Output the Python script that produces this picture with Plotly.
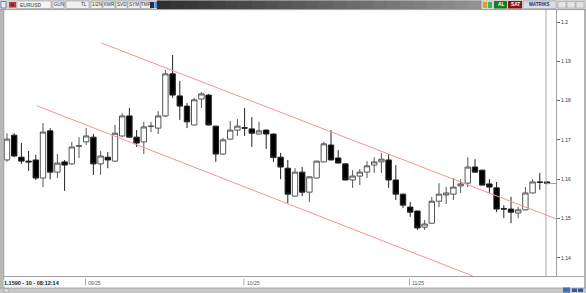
import plotly.graph_objects as go
import pandas as pd

# ---------------- data ----------------
dates = [d.strftime("%Y-%m-%d") for d in pd.bdate_range("2025-08-15", "2025-11-28")]

opens = [1.1649, 1.1712, 1.1656, 1.1646, 1.1649, 1.1603, 1.1723, 1.1618, 1.1644, 1.1639,
         1.1684, 1.1695, 1.1707, 1.1639, 1.1656, 1.1646, 1.1710, 1.1761, 1.1707, 1.1695,
         1.1734, 1.1730, 1.1761, 1.1868, 1.1812, 1.1786, 1.1738, 1.1804, 1.1814, 1.1735,
         1.1664, 1.1702, 1.1725, 1.1731, 1.1728, 1.1715, 1.1725, 1.1715, 1.1656, 1.1628,
         1.1557, 1.1618, 1.1567, 1.1603, 1.1644, 1.1687, 1.1654, 1.1639, 1.1598, 1.1608,
         1.1618, 1.1636, 1.1644, 1.1649, 1.1598, 1.1562, 1.1529, 1.1519, 1.1478, 1.1488,
         1.1544, 1.1560, 1.1562, 1.1583, 1.1590, 1.1631, 1.1623, 1.1588, 1.1578, 1.1525,
         1.1524, 1.1514, 1.1522, 1.1565, 1.1593, 1.1593]
highs = [1.1717, 1.1717, 1.1692, 1.1672, 1.1662, 1.1743, 1.1730, 1.1664, 1.1649, 1.1695,
         1.1707, 1.1730, 1.1715, 1.1672, 1.1669, 1.1738, 1.1768, 1.1781, 1.1725, 1.1746,
         1.1746, 1.1773, 1.1878, 1.1916, 1.1850, 1.1794, 1.1807, 1.1822, 1.1817, 1.1736,
         1.1705, 1.1748, 1.1753, 1.1781, 1.1758, 1.1746, 1.1726, 1.1716, 1.1667, 1.1649,
         1.1628, 1.1631, 1.1607, 1.1647, 1.1695, 1.1725, 1.1674, 1.1640, 1.1623, 1.1626,
         1.1646, 1.1656, 1.1667, 1.1664, 1.1636, 1.1563, 1.1542, 1.1520, 1.1496, 1.1555,
         1.1590, 1.1580, 1.1603, 1.1600, 1.1656, 1.1651, 1.1624, 1.1600, 1.1593, 1.1534,
         1.1555, 1.1529, 1.1580, 1.1600, 1.1616, 1.1594]
lows = [1.1644, 1.1656, 1.1639, 1.1621, 1.1598, 1.1580, 1.1600, 1.1603, 1.1570, 1.1637,
        1.1654, 1.1687, 1.1611, 1.1611, 1.1628, 1.1644, 1.1707, 1.1705, 1.1682, 1.1664,
        1.1720, 1.1715, 1.1758, 1.1807, 1.1751, 1.1730, 1.1737, 1.1781, 1.1737, 1.1644,
        1.1662, 1.1701, 1.1710, 1.1710, 1.1682, 1.1714, 1.1677, 1.1644, 1.1600, 1.1539,
        1.1556, 1.1557, 1.1542, 1.1602, 1.1643, 1.1648, 1.1640, 1.1597, 1.1578, 1.1585,
        1.1603, 1.1616, 1.1616, 1.1578, 1.1547, 1.1527, 1.1504, 1.1471, 1.1471, 1.1487,
        1.1529, 1.1537, 1.1547, 1.1565, 1.1580, 1.1617, 1.1584, 1.1565, 1.1516, 1.1501,
        1.1488, 1.1501, 1.1521, 1.1564, 1.1573, 1.1587]
closes = [1.1702, 1.1659, 1.1646, 1.1644, 1.1603, 1.1720, 1.1618, 1.1641, 1.1636, 1.1682,
          1.1685, 1.1710, 1.1639, 1.1659, 1.1649, 1.1717, 1.1761, 1.1707, 1.1692, 1.1733,
          1.1735, 1.1761, 1.1868, 1.1814, 1.1786, 1.1746, 1.1802, 1.1817, 1.1738, 1.1664,
          1.1700, 1.1725, 1.1735, 1.1730, 1.1717, 1.1723, 1.1715, 1.1655, 1.1631, 1.1562,
          1.1618, 1.1567, 1.1606, 1.1646, 1.1690, 1.1649, 1.1641, 1.1598, 1.1608, 1.1618,
          1.1634, 1.1644, 1.1651, 1.1598, 1.1562, 1.1534, 1.1516, 1.1476, 1.1486, 1.1544,
          1.1562, 1.1565, 1.1580, 1.1588, 1.1631, 1.1618, 1.1585, 1.1580, 1.1524, 1.1524,
          1.1516, 1.1522, 1.1565, 1.1593, 1.1592, 1.1590]

y_tick_vals = [1.14, 1.15, 1.16, 1.17, 1.18, 1.19, 1.20]
y_tick_text = ["1.14", "1.15", "1.16", "1.17", "1.18", "1.19", "1.2"]
month_starts = ["2025-09-01", "2025-10-01", "2025-11-03"]
month_labels = ["09/25", "10/25", "11/25"]

# channel lines: (x index start, x index end), (price start, price end)
upper_x = [13.06, 76.25]
upper_y = [1.1947, 1.1499]
lower_x = [4.125, 64.7]
lower_y = [1.1787, 1.13537]

status_text = "1.1590 - 10 - 08:12:14"
symbol = "EURUSD"
toolbar_left = ["GUN", "TL", "1/2N", "KMR", "SVD", "SYM", "TMP"]

# ---------------- geometry ----------------
W, H = 586, 293
PX0, PX1, PY0, PY1 = 4, 556, 10, 276
Y_MIN, Y_MAX = 1.135369, 1.203053


def px(x):
    return (x - PX0) / (PX1 - PX0)


def py(y):
    return (PY1 - y) / (PY1 - PY0)


shapes = []
annotations = []


def rect(x0, y0, x1, y1, fill, line=None, lw=0.6):
    shapes.append(dict(type="rect", xref="paper", yref="paper",
                       x0=px(x0), x1=px(x1), y0=py(y1), y1=py(y0),
                       fillcolor=fill, layer="above",
                       line=dict(color=line or fill, width=lw if line else 0)))


def hline(x0, x1, y, color, w=1):
    shapes.append(dict(type="line", xref="paper", yref="paper", layer="above",
                       x0=px(x0), x1=px(x1), y0=py(y), y1=py(y),
                       line=dict(color=color, width=w)))


def vline(x, y0, y1, color, w=1):
    shapes.append(dict(type="line", xref="paper", yref="paper", layer="above",
                       x0=px(x), x1=px(x), y0=py(y0), y1=py(y1),
                       line=dict(color=color, width=w)))


def text(x, y, s, size=5, color="#333", anchor="center", bold=False, bg=None):
    annotations.append(dict(xref="paper", yref="paper", x=px(x), y=py(y),
                            text=("<b>%s</b>" % s) if bold else s, showarrow=False,
                            xanchor=anchor, yanchor="middle",
                            font=dict(size=size, color=color, family="Liberation Sans"),
                            bgcolor=bg, borderpad=0))


fig = go.Figure()
fig.add_trace(go.Candlestick(
    x=dates, open=opens, high=highs, low=lows, close=closes,
    increasing=dict(line=dict(color="#555555", width=1), fillcolor="#ffffff"),
    decreasing=dict(line=dict(color="#222222", width=1), fillcolor="#000000"),
    whiskerwidth=0, showlegend=False, hoverinfo="skip"))

# per-candle dots under the time axis
fig.add_trace(go.Scatter(
    x=dates[:-1], y=[1.13473] * (len(dates) - 1), mode="markers",
    marker=dict(symbol="square", size=1.8, color="#222"),
    cliponaxis=False, showlegend=False, hoverinfo="skip"))

# channel lines (data coords)
for xs, ys in ((upper_x, upper_y), (lower_x, lower_y)):
    shapes.append(dict(type="line", xref="x", yref="y", x0=xs[0], x1=xs[1],
                       y0=ys[0], y1=ys[1], line=dict(color="#f39494", width=1)))

# inner vertical separator and last price line
vline(546, 10, 277, "#a8a8a8")
hline(547, 556, 183.5, "#40c8c8", 1)
hline(556, 584, 276.5, "#a8a8a8")

# month separators and labels
for d, lab in zip(month_starts, month_labels):
    annotations.append(dict(xref="x", yref="paper", x=d, y=py(283), text=lab,
                            showarrow=False, xanchor="left", yanchor="middle", xshift=0,
                            font=dict(size=5, color="#555", family="Liberation Sans")))
    shapes.append(dict(type="line", xref="x", yref="paper", x0=dates.index(d) - 0.1,
                       x1=dates.index(d) - 0.1, y0=py(285.5), y1=py(278.5),
                       line=dict(color="#999", width=0.8)))

# status text bottom-left
text(3, 282.5, status_text, size=5.5, color="#222", anchor="left", bold=True, bg="#f4f4f4")

# frame borders
rect(0, 9.5, 3.6, 293, "#b8b8b8")
vline(3.8, 9.5, 288, "#8c8c8c", 0.8)
rect(584, 9.5, 586, 293, "#b4b4b4")
rect(0, 288, 586, 293, "#c8c8c8")
hline(0, 586, 288, "#9a9a9a", 0.8)
rect(4, 289, 9, 292, "#e8e8e8", "#8a8a8a", 0.5)
rect(563, 287.5, 570, 292.5, "#3a70c0")
rect(572, 288.5, 577, 292, "#2a5aa8")
rect(578, 288.5, 583, 292, "#2a5aa8")

# top toolbar
rect(0, 0, 586, 9.5, "#d2d2d2")
hline(0, 586, 9.6, "#8a8a8a", 0.8)
# dark gradient band
n_steps = 24
x_a, x_b = 157, 481
for k in range(n_steps):
    t = k / (n_steps - 1)
    c = int(0x30 + t * (0x92 - 0x30))
    rect(x_a + (x_b - x_a) * k / n_steps, 0.5, x_a + (x_b - x_a) * (k + 1) / n_steps + 0.5, 9,
         "#%02x%02x%02x" % (c, c, c))
# left items
rect(1, 1.5, 6, 8, "#e8e8f4", "#3050a0", 0.6)
rect(9, 2, 16, 7.5, "#c83030")
rect(11, 3.5, 14, 6, "#2040a0")
rect(17, 1, 51, 8.5, "#f4f4f4", "#9a9a9a")
text(19, 4.8, symbol, size=5, color="#333", anchor="left")
box_x = [(53, 64), (66, 89), (91, 102), (103, 115), (116, 127), (128, 140), (141, 151)]
for (a, b), lab in zip(box_x, toolbar_left):
    rect(a, 1, b, 8.5, "#f0f0f0", "#9a9a9a")
    text((a + b) / 2 + (6 if lab == "TL" else 0), 4.8, lab, size=4.6, color="#333")
rect(150, 2, 154, 8, "#2a2a5a")
rect(154.5, 1.5, 157, 8, "#38a0e0")
# right items
rect(483, 2, 487, 8, "#e0a020")
rect(488, 2, 492, 8, "#40b070")
rect(494, 1, 507, 8.5, "#1e7a22")
text(500.5, 4.8, "AL", size=4.8, color="#ffffff", bold=True)
rect(508, 1, 522, 8.5, "#8e1414")
text(515, 4.8, "SAT", size=4.8, color="#ffffff", bold=True)
rect(523, 1, 556, 8.5, "#dcdce6", "#a0a0b0")
text(539.5, 4.8, "MATRIKS", size=4.6, color="#1c2c70", bold=True)
for a in (558, 567, 576):
    rect(a, 1.5, a + 8, 8, "#e4e4e4", "#a0a0a0")

fig.update_layout(
    width=W, height=H,
    margin=dict(l=PX0, r=W - PX1, t=PY0, b=H - PY1, pad=0),
    paper_bgcolor="#ffffff", plot_bgcolor="#ffffff",
    boxgap=0.25, boxgroupgap=0,
    xaxis=dict(type="category", range=[-0.4167, 76.25], showgrid=False, zeroline=False,
               rangeslider=dict(visible=False), showticklabels=False, ticks="",
               showline=True, linecolor="#a0a0a0", linewidth=1, fixedrange=True),
    yaxis=dict(side="right", range=[Y_MIN, Y_MAX], tickmode="array",
               tickvals=y_tick_vals, ticktext=y_tick_text, ticks="outside", ticklen=3,
               tickcolor="#666", ticklabeloverflow="allow",
               tickfont=dict(size=5, color="#333", family="Liberation Sans"),
               showgrid=False, zeroline=False, showline=True, linecolor="#a0a0a0",
               linewidth=1, fixedrange=True),
    shapes=shapes, annotations=annotations,
)

fig.write_html("out.html", config=dict(displayModeBar=False))
